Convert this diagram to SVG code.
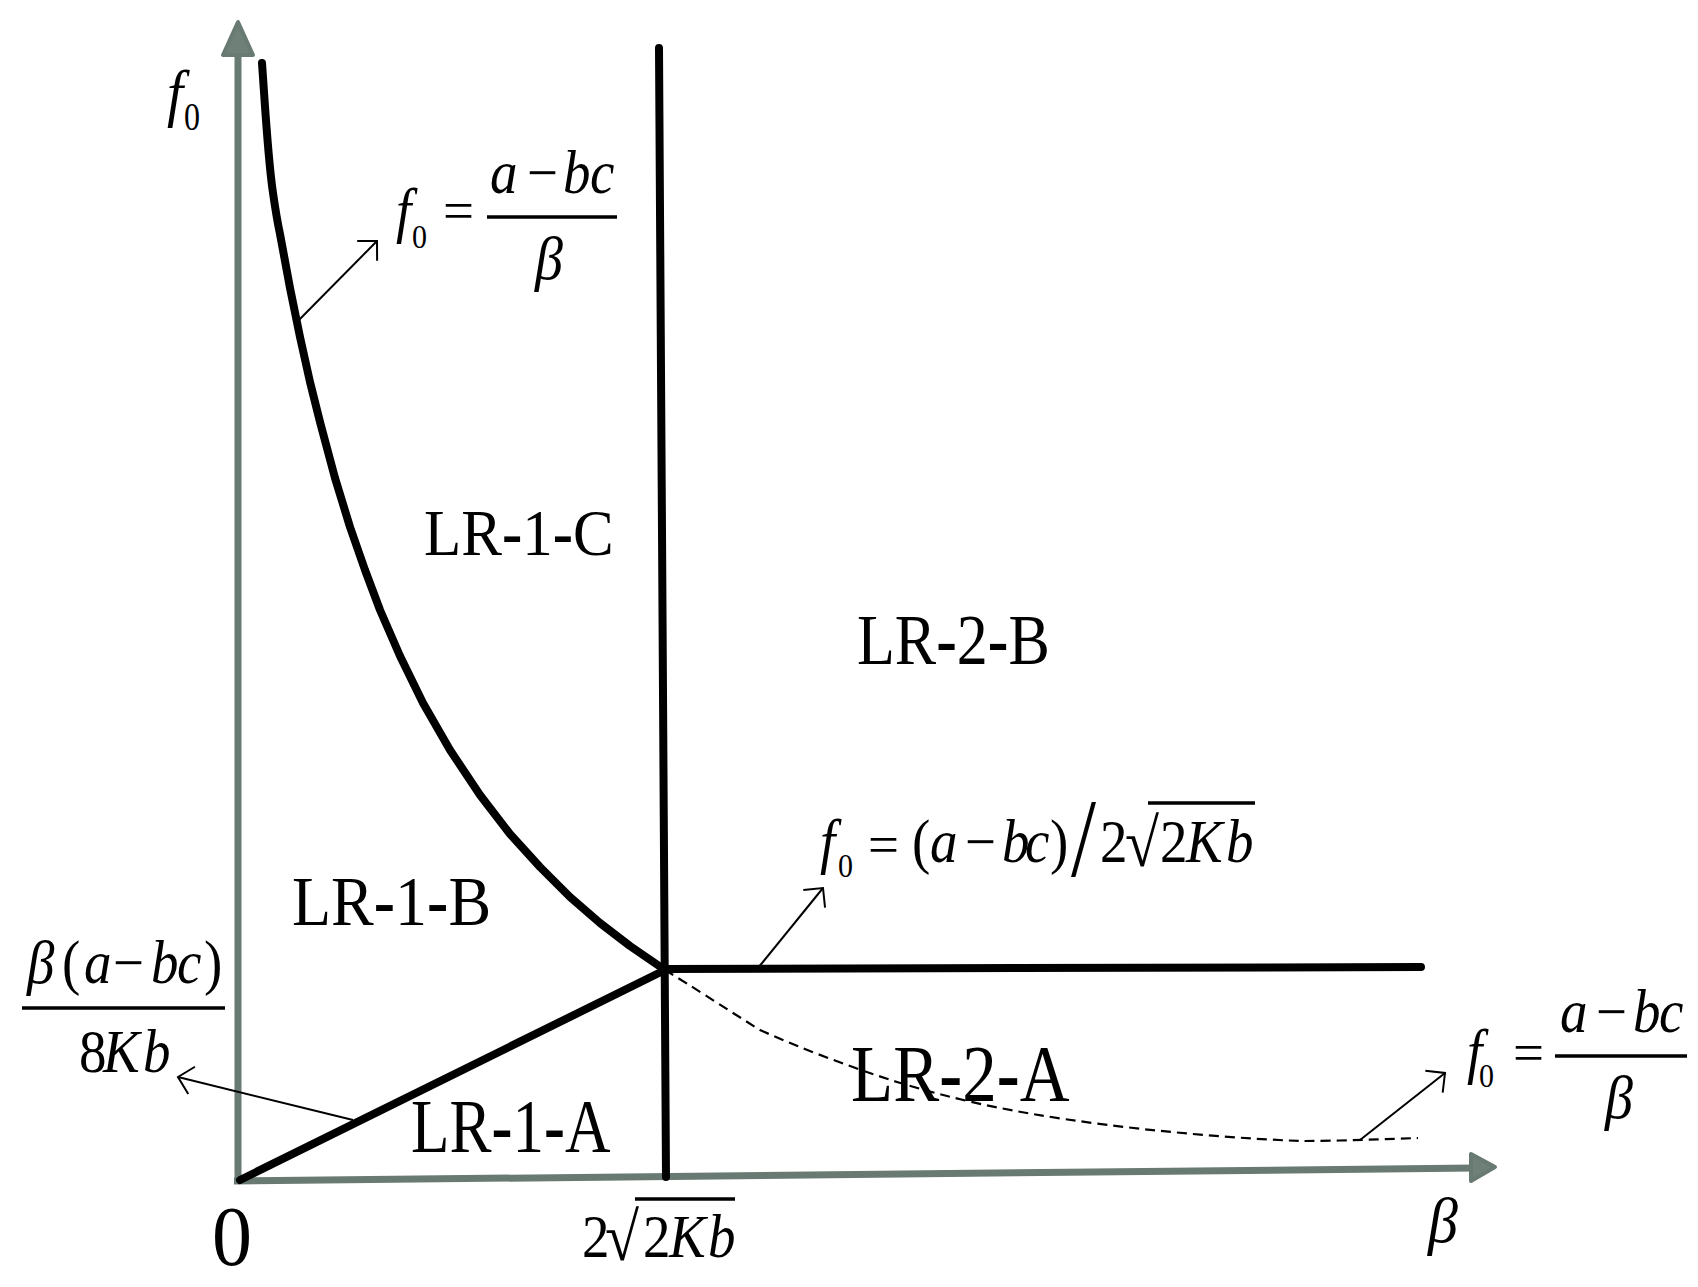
<svg xmlns="http://www.w3.org/2000/svg" width="1698" height="1287" viewBox="0 0 1698 1287">
<style>
.t{font-family:"Liberation Serif","Times New Roman",serif;fill:#000}
.i{font-style:italic}
.h{font-weight:bold}
.ax{stroke:#687a72;stroke-width:7;fill:none}
.axh{fill:#6e8077;stroke:#687a72;stroke-width:4;stroke-linejoin:round}
.bold{stroke:#000;stroke-width:8;fill:none;stroke-linejoin:round;stroke-linecap:round}
.thin{stroke:#000;stroke-width:2;fill:none}
.bar{stroke:#000;stroke-width:3.5}
</style>
<defs>
<marker id="open" markerUnits="userSpaceOnUse" markerWidth="30" markerHeight="30" viewBox="-20 -15 22 30" refX="0" refY="0" orient="auto">
<path d="M-14,-14 L0,0 L-14,14" fill="none" stroke="#000" stroke-width="2"/>
</marker>
</defs>
<rect width="1698" height="1287" fill="#fff"/>

<g id="axes">
<line class="ax" x1="238" y1="1182" x2="238" y2="50"/>
<polygon class="axh" points="238,22 223,55 253,55"/>
<line class="ax" x1="234" y1="1181" x2="1475" y2="1168"/>
<polygon class="axh" points="1495,1167 1471,1154 1471,1181"/>
</g>

<g id="connectors">
<path class="bold" d="M262,63 C265,105 268,160 273,193 C275,207 277,220 280,234 L290,288 L300,337 L310,382 L320,422 L335,478 L350,527 L365,570 L380,610 L400,656 L423,703 L450,750 L480,795 L510,834 L540,867 L570,897 L600,923 L630,946 L665,970"/>
<line class="bold" x1="659" y1="48" x2="666" y2="1177" stroke-linecap="butt"/>
<line class="bold" x1="240" y1="1180" x2="665" y2="970" stroke-width="9"/>
<line class="bold" x1="665" y1="969" x2="1421" y2="967"/>
<path d="M665,970 C690,985 720,1005 760,1030 C800,1048 850,1067 897,1082 C930,1092 960,1100 1000,1108 C1080,1124 1200,1137 1300,1141 C1340,1141 1390,1139 1418,1138" fill="none" stroke="#000" stroke-width="2.2" stroke-dasharray="10,6"/>
<line class="thin" x1="297" y1="322" x2="377" y2="241" marker-end="url(#open)"/>
<line class="thin" x1="758" y1="968" x2="823" y2="888" marker-end="url(#open)"/>
<line class="thin" x1="1360" y1="1140" x2="1445" y2="1073" marker-end="url(#open)"/>
<line class="thin" x1="353" y1="1120" x2="178" y2="1077" marker-end="url(#open)"/>
</g>

<g id="axis-labels">
<text class="t i" font-size="58" transform="translate(167,114) scale(1,1.1)">f</text>
<text class="t" font-size="32" transform="translate(184,130) scale(1,1.25)">0</text>
<text class="t" font-size="80" transform="translate(212,1265) scale(1,1.05)">0</text>
<text class="t i" font-size="60" transform="translate(1428,1242) scale(1,1.05)">β</text>
<g id="label-2sqrt2Kb">
<text class="t" font-size="55" transform="translate(582,1257) scale(1,1.1)">2</text>
<text class="t" font-size="62" transform="translate(605,1260) scale(1,1.1)">√</text>
<line class="bar" x1="635" y1="1199" x2="735" y2="1199"/>
<text class="t" font-size="55" transform="translate(643,1257) scale(1,1.1)">2</text>
<text class="t i" font-size="55" transform="translate(669,1257) scale(1,1.1)">K</text>
<text class="t i" font-size="55" transform="translate(708,1257) scale(1,1.1)">b</text>
</g>
</g>

<g id="region-labels">
<text id="LR-1-C" class="t" font-size="61" transform="translate(424,555) scale(1,1.09)">LR<tspan class="h">-</tspan>1<tspan class="h">-</tspan>C</text>
<text id="LR-2-B" class="t" font-size="62" transform="translate(857,664) scale(1,1.17)">LR<tspan class="h">-</tspan>2<tspan class="h">-</tspan>B</text>
<text id="LR-1-B" class="t" font-size="64" transform="translate(292,925) scale(1,1.1)">LR<tspan class="h">-</tspan>1<tspan class="h">-</tspan>B</text>
<text id="LR-2-A" class="t" font-size="69" transform="translate(851,1101) scale(1,1.18)">LR<tspan class="h">-</tspan>2<tspan class="h">-</tspan>A</text>
<text id="LR-1-A" class="t" font-size="63" transform="translate(411,1152) scale(1,1.2)">LR<tspan class="h">-</tspan>1<tspan class="h">-</tspan>A</text>
</g>

<g id="formula-top">
<text class="t i" font-size="55" transform="translate(396,231) scale(1,1.1)">f</text>
<text class="t" font-size="30" transform="translate(412,248) scale(1,1.13)">0</text>
<text class="t" font-size="55" transform="translate(443,229)">=</text>
<line class="bar" x1="487" y1="217" x2="617" y2="217"/>
<text class="t i" font-size="55" transform="translate(0,193) scale(1,1.1)"><tspan x="490">a</tspan><tspan x="527" font-style="normal">−</tspan><tspan x="563">b</tspan><tspan x="590">c</tspan></text>
<text class="t i" font-size="56" transform="translate(535,279) scale(1,1.1)">β</text>
</g>

<g id="formula-mid">
<text class="t i" font-size="55" transform="translate(820,862) scale(1,1.1)">f</text>
<text class="t" font-size="30" transform="translate(838,877) scale(1,1.13)">0</text>
<text class="t" font-size="55" transform="translate(868,863)">=</text>
<text class="t" font-size="55" transform="translate(0,862) scale(1,1.1)"><tspan x="912">(</tspan><tspan x="930" font-style="italic">a</tspan><tspan x="965">−</tspan><tspan x="1002" font-style="italic">b</tspan><tspan x="1025" font-style="italic">c</tspan><tspan x="1050">)</tspan></text>
<text class="t" font-size="90" transform="translate(1071,876) scale(1,1.25)">/</text>
<text class="t" font-size="55" transform="translate(1100,862) scale(1,1.1)">2</text>
<text class="t" font-size="62" transform="translate(1125,866) scale(1,1.1)">√</text>
<line class="bar" x1="1148" y1="803" x2="1255" y2="803"/>
<text class="t" font-size="55" transform="translate(1160,862) scale(1,1.1)">2</text>
<text class="t i" font-size="55" transform="translate(1186,862) scale(1,1.1)">K</text>
<text class="t i" font-size="55" transform="translate(1226,862) scale(1,1.1)">b</text>
</g>

<g id="formula-right">
<text class="t i" font-size="55" transform="translate(1467,1072) scale(1,1.1)">f</text>
<text class="t" font-size="30" transform="translate(1479,1087) scale(1,1.13)">0</text>
<text class="t" font-size="55" transform="translate(1513,1071)">=</text>
<line class="bar" x1="1555" y1="1056" x2="1687" y2="1056"/>
<text class="t i" font-size="55" transform="translate(0,1032) scale(1,1.1)"><tspan x="1560">a</tspan><tspan x="1596" font-style="normal">−</tspan><tspan x="1633">b</tspan><tspan x="1659">c</tspan></text>
<text class="t i" font-size="56" transform="translate(1605,1118) scale(1,1.1)">β</text>
</g>

<g id="formula-left">
<text class="t" font-size="55" transform="translate(0,983) scale(1,1.1)"><tspan x="27" font-style="italic">β</tspan><tspan x="62">(</tspan><tspan x="84" font-style="italic">a</tspan><tspan x="113">−</tspan><tspan x="151" font-style="italic">b</tspan><tspan x="177" font-style="italic">c</tspan><tspan x="204">)</tspan></text>
<line class="bar" x1="22" y1="1008" x2="225" y2="1008"/>
<text class="t" font-size="55" transform="translate(0,1072) scale(1,1.1)"><tspan x="79">8</tspan><tspan x="103" font-style="italic">K</tspan><tspan x="143" font-style="italic">b</tspan></text>
</g>
</svg>
